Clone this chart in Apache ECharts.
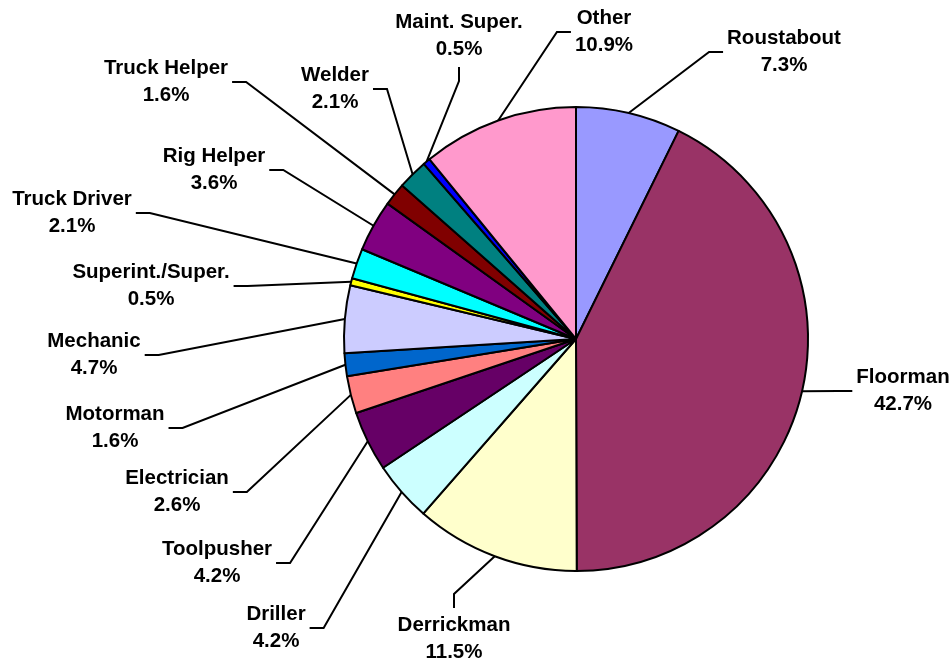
<!DOCTYPE html>
<html><head><meta charset="utf-8">
<script src="https://cdn.jsdelivr.net/npm/echarts@6/dist/echarts.min.js"></script>
<style>html,body{margin:0;padding:0;background:#fff}#chart{width:952px;height:662px}</style>
</head><body><div id="chart"></div>
<script>
const categories = ['Roustabout','Floorman','Derrickman','Driller','Toolpusher','Electrician','Motorman','Mechanic','Superint./Super.','Truck Driver','Rig Helper','Truck Helper','Welder','Maint. Super.','Other'];
const shares = [7.3,42.7,11.5,4.2,4.2,2.6,1.6,4.7,0.5,2.1,3.6,1.6,2.1,0.5,10.9];
const sliceColors = ['#9999FF','#993366','#FFFFCC','#CCFFFF','#660066','#FF8080','#0066CC','#CCCCFF','#FFFF00','#00FFFF','#800080','#800000','#008080','#0000FF','#FF99CC'];
// label placement (layout only): [centerX, centerY, side of the label where the leader attaches]
const labelPlacement = [
  [784,52,'left'], [903,391,'left'], [454,639,'top'], [276,628,'right'], [217,563,'right'],
  [177,492,'right'], [115,428,'right'], [94,355,'right'], [151,286,'right'], [72,213,'right'],
  [214,170,'right'], [166,82,'right'], [335,89,'right'], [459,36,'bottom'], [604,32,'left']
];

const chart = echarts.init(document.getElementById('chart'), null, {renderer:'canvas'});
const data = categories.map((n,i)=>({name:n, value:shares[i], itemStyle:{color:sliceColors[i]}}));
chart.setOption({
  animation:false,
  backgroundColor:'#fff',
  series:[{
    type:'pie',
    center:[576,339],
    radius:232,
    startAngle:90,
    clockwise:true,
    avoidLabelOverlap:false,
    itemStyle:{borderColor:'#000', borderWidth:2},
    emphasis:{disabled:true},
    label:{
      show:true, position:'outside',
      formatter:'{b}\n{c}%',
      fontFamily:'Liberation Sans, Arial, sans-serif',
      fontWeight:'bold', fontSize:20.5, lineHeight:27, color:'#000', align:'center'
    },
    labelLine:{show:true, lineStyle:{color:'#000', width:2}},
    labelLayout:function(p){
      const pl = labelPlacement[p.dataIndex];
      const cx = pl[0], cy = pl[1], side = pl[2];
      const w = p.labelRect.width, h = p.labelRect.height;
      const edge = p.labelLinePoints ? p.labelLinePoints[0] : [cx, cy];
      let anchor, elbow;
      if (side==='right'){ anchor=[cx+w/2+4, cy]; elbow=[anchor[0]+14, cy]; }
      else if (side==='left'){ anchor=[cx-w/2-4, cy]; elbow=[anchor[0]-14, cy]; }
      else if (side==='bottom'){ anchor=[cx, cy+h/2+4]; elbow=[cx, anchor[1]+14]; }
      else { anchor=[cx, cy-h/2-4]; elbow=[cx, anchor[1]-14]; }
      return {x:cx, y:cy, align:'center', verticalAlign:'middle', labelLinePoints:[edge, elbow, anchor]};
    },
    data:data
  }]
});
</script></body></html>
